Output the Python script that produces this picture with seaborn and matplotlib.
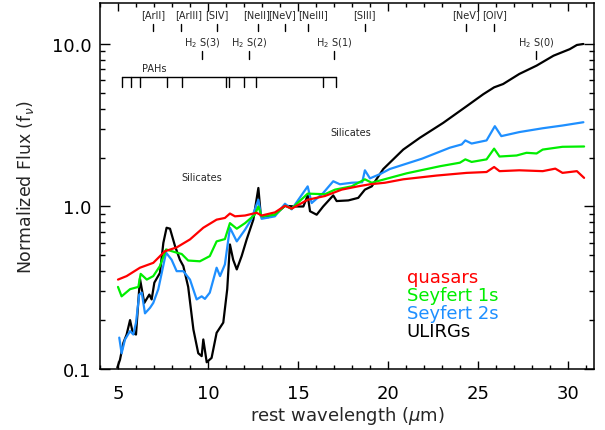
import numpy as np
import pandas as pd
import matplotlib
matplotlib.use("Agg")
import matplotlib.pyplot as plt
from matplotlib.ticker import FixedLocator, MultipleLocator, LogLocator, NullFormatter, FuncFormatter
import seaborn as sns

# ---------------- data ----------------
quasars_wl = [5.0, 5.48, 6.22, 6.96, 7.6, 8.26, 9.0, 9.74, 10.48, 10.94, 11.22, 11.5, 12.06,
              12.7, 12.98, 13.72, 14.28, 14.65, 15.54, 16.5, 17.43, 18.33, 19.0, 19.83, 20.85,
              22.7, 24.37, 25.48, 25.9, 26.2, 27.3, 28.6, 29.3, 29.7, 30.5, 30.9]
quasars_flux = [0.355, 0.373, 0.42, 0.45, 0.53, 0.56, 0.627, 0.74, 0.83, 0.85, 0.905, 0.87, 0.88,
                0.915, 0.88, 0.92, 1.01, 0.97, 1.10, 1.16, 1.27, 1.33, 1.37, 1.40, 1.47,
                1.55, 1.61, 1.63, 1.75, 1.65, 1.67, 1.65, 1.71, 1.61, 1.65, 1.50]

sy1_wl = [5.0, 5.2, 5.67, 6.13, 6.26, 6.6, 6.96, 7.33, 7.67, 8.26, 8.54, 8.9, 9.55, 10.1,
          10.48, 10.94, 11.22, 11.6, 12.06, 12.6, 12.8, 12.98, 13.72, 14.28, 14.65, 15.54,
          16.5, 17.06, 17.98, 18.72, 19.1, 20.1, 21.04, 22.9, 24.0, 24.3, 24.65, 25.48,
          25.9, 26.2, 27.15, 27.7, 28.26, 28.6, 29.7, 30.9]
sy1_flux = [0.32, 0.28, 0.31, 0.32, 0.385, 0.355, 0.373, 0.43, 0.544, 0.52, 0.51, 0.465, 0.46, 0.495,
            0.61, 0.63, 0.79, 0.73, 0.79, 0.89, 1.0, 0.87, 0.89, 1.01, 0.97, 1.20,
            1.19, 1.27, 1.33, 1.47, 1.40, 1.50, 1.60, 1.77, 1.86, 1.95, 1.88, 1.95,
            2.27, 2.03, 2.06, 2.14, 2.12, 2.24, 2.33, 2.34]

sy2_wl = [5.07, 5.2, 5.39, 5.67, 5.85, 6.0, 6.18, 6.32, 6.5, 6.78, 6.96, 7.24, 7.43, 7.67, 7.98,
          8.26, 8.63, 9.0, 9.37, 9.65, 9.83, 10.1, 10.48, 10.67, 10.94, 11.22, 11.6, 12.06,
          12.4, 12.8, 12.98, 13.72, 14.28, 14.65, 15.54, 15.76, 16.4, 16.96, 17.33, 17.98,
          18.57, 18.72, 19.0, 19.55, 20.1, 21.9, 23.44, 24.1, 24.3, 24.65, 25.48, 25.94,
          26.3, 27.3, 28.6, 29.7, 30.86]
sy2_flux = [0.156, 0.125, 0.152, 0.171, 0.163, 0.193, 0.287, 0.295, 0.22, 0.238, 0.255, 0.31, 0.39,
            0.52, 0.47, 0.40, 0.40, 0.355, 0.268, 0.28, 0.27, 0.295, 0.42, 0.373, 0.44, 0.74,
            0.61, 0.72, 0.83, 1.10, 0.84, 0.87, 1.04, 0.96, 1.33, 1.05, 1.21, 1.43, 1.37, 1.40,
            1.41, 1.67, 1.49, 1.58, 1.70, 1.97, 2.30, 2.41, 2.55, 2.44, 2.55, 3.12, 2.71, 2.87,
            3.03, 3.15, 3.30]

ulirg_wl = [4.96, 5.11, 5.3, 5.48, 5.67, 5.82, 6.0, 6.22, 6.46, 6.74, 6.87, 7.02, 7.33, 7.52,
            7.7, 7.89, 8.17, 8.44, 8.63, 8.9, 9.19, 9.46, 9.65, 9.74, 9.93, 10.2, 10.48, 10.85,
            11.07, 11.22, 11.4, 11.6, 11.87, 12.15, 12.52, 12.8, 12.94, 13.35, 13.72, 14.28,
            14.83, 15.3, 15.54, 15.67, 16.04, 16.4, 16.96, 17.15, 17.8, 18.35, 18.72, 19.1,
            19.74, 20.85, 21.78, 23.07, 24.37, 25.3, 25.9, 26.4, 27.3, 28.26, 29.2, 30.1,
            30.5, 30.86]
ulirg_flux = [0.102, 0.114, 0.145, 0.163, 0.20, 0.167, 0.163, 0.36, 0.255, 0.287, 0.268, 0.34,
              0.39, 0.597, 0.74, 0.73, 0.57, 0.47, 0.43, 0.32, 0.175, 0.125, 0.12, 0.152, 0.11,
              0.117, 0.167, 0.193, 0.31, 0.584, 0.47, 0.41, 0.495, 0.627, 0.83, 1.30, 0.87,
              0.86, 0.89, 1.01, 1.0, 1.0, 1.17, 0.935, 0.89, 1.0, 1.17, 1.08, 1.09, 1.13, 1.27,
              1.33, 1.70, 2.24, 2.65, 3.27, 4.14, 4.91, 5.41, 5.67, 6.54, 7.36, 8.47, 9.29,
              9.86, 10.0]

series_names = ["quasars", "Seyfert 1s", "Seyfert 2s", "ULIRGs"]
series_colors = ["#ff0000", "#00ee00", "#1e8fff", "#000000"]

# fine-structure lines (top row)
ion_labels = ["[ArII]", "[ArIII]", "[SIV]", "[NeII]", "[NeV]", "[NeIII]", "[SIII]", "[NeV]", "[OIV]"]
ion_wl = [6.96, 8.5, 10.5, 12.78, 14.3, 15.56, 18.7, 24.32, 25.9]
ion_label_wl = [6.96, 8.95, 10.5, 12.72, 14.1, 15.82, 18.7, 24.32, 25.9]
# H2 rotational lines
h2_labels = ["H$_2$ S(3)", "H$_2$ S(2)", "H$_2$ S(1)", "H$_2$ S(0)"]
h2_wl = [9.66, 12.28, 17.03, 28.22]
# PAH features
pah_wl = [5.2, 5.7, 6.2, 7.7, 8.57, 11.0, 11.15, 12.0, 12.67, 16.37, 17.1]

xticks_major = [5, 10, 15, 20, 25, 30]
yticks_major = [0.1, 1.0, 10.0]

# ---------------- figure ----------------
sns.set_style("ticks")
plt.rcParams["font.family"] = ["DejaVu Sans"]

frames = []
for name, wl, fl in zip(series_names,
                        [quasars_wl, sy1_wl, sy2_wl, ulirg_wl],
                        [quasars_flux, sy1_flux, sy2_flux, ulirg_flux]):
    frames.append(pd.DataFrame({"wavelength": wl, "flux": fl, "sample": name}))
df = pd.concat(frames, ignore_index=True)

fig = plt.figure(figsize=(6.05, 4.31), dpi=100)
ax = fig.add_axes([100 / 605, 1 - 370 / 431, 494 / 605, 366.5 / 431])

draw_order = ["ULIRGs", "Seyfert 2s", "Seyfert 1s", "quasars"]
pal = dict(zip(series_names, series_colors))
for name in draw_order:
    sub = df[df["sample"] == name]
    sns.lineplot(data=sub, x="wavelength", y="flux", color=pal[name], lw=1.6,
                 sort=False, estimator=None, ax=ax, legend=False)

ax.set_yscale("log")
ax.set_xlim(4.0, 31.45)
ax.set_ylim(0.1, 18.0)

ax.xaxis.set_major_locator(FixedLocator(xticks_major))
ax.xaxis.set_minor_locator(MultipleLocator(1))
ax.yaxis.set_major_locator(FixedLocator(yticks_major))
ax.yaxis.set_minor_locator(LogLocator(base=10, subs=np.arange(2, 10)))
ax.yaxis.set_minor_formatter(NullFormatter())
ax.yaxis.set_major_formatter(FuncFormatter(lambda v, p: f"{v:.1f}"))

ax.tick_params(which="both", direction="in", top=True, right=True, width=1.0,
               labelsize=13, colors="black")
ax.tick_params(axis="x", which="major", length=6, pad=11)
ax.tick_params(axis="x", which="minor", length=3)
ax.tick_params(axis="y", which="major", length=7, pad=6)
ax.tick_params(axis="y", which="minor", length=3.5)
for s in ax.spines.values():
    s.set_linewidth(1.1)
    s.set_color("black")

ax.set_xlabel("rest wavelength ($\\mu$m)", fontsize=13)
ax.set_ylabel("Normalized Flux (f$_\\nu$)", fontsize=12.5)
ax.xaxis.set_label_coords(0.5, -0.095)
ax.yaxis.set_label_coords(-0.13, 0.5)

trans = ax.get_xaxis_transform()
afs = 7
for lab, wl, lwl in zip(ion_labels, ion_wl, ion_label_wl):
    ax.text(lwl, 0.9686, lab, transform=trans, ha="center", va="center", fontsize=afs)
    ax.plot([wl, wl], [0.941, 0.922], transform=trans, color="black", lw=1.0)
for lab, wl in zip(h2_labels, h2_wl):
    ax.text(wl, 0.892, lab, transform=trans, ha="center", va="center", fontsize=afs)
    ax.plot([wl, wl], [0.868, 0.846], transform=trans, color="black", lw=1.0)
ax.text(7.0, 0.821, "PAHs", transform=trans, ha="center", va="center", fontsize=afs)
ax.plot([min(pah_wl), max(pah_wl)], [0.797, 0.797], transform=trans, color="black", lw=1.0)
for wl in pah_wl:
    ax.plot([wl, wl], [0.797, 0.769], transform=trans, color="black", lw=1.0)

ax.text(9.67, 0.524, "Silicates", transform=trans, ha="center", va="center", fontsize=afs)
ax.text(17.94, 0.647, "Silicates", transform=trans, ha="center", va="center", fontsize=afs)

leg_y = [0.251, 0.202, 0.153, 0.104]
for name, col, yy in zip(series_names, series_colors, leg_y):
    ax.text(0.621, yy, name, transform=ax.transAxes, color=col, fontsize=13,
            ha="left", va="center")

fig.savefig("out.png", dpi=100)
